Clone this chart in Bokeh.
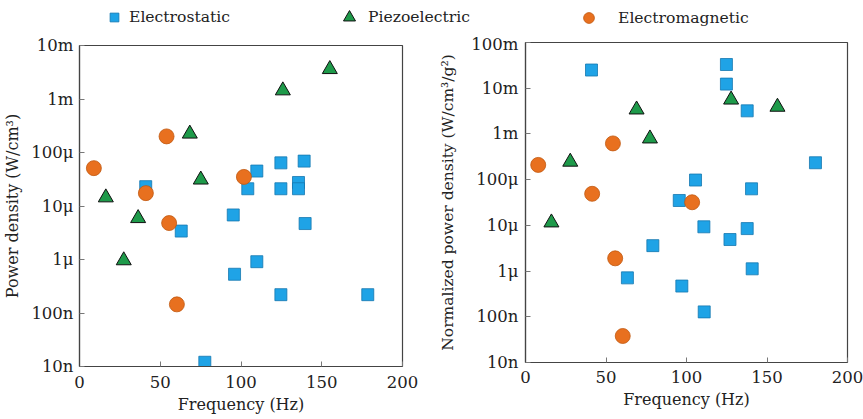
from bokeh.plotting import figure
from bokeh.models import (FixedTicker, CustomJSTickFormatter, Legend, LegendItem, Range1d)
from bokeh.layouts import column, row
from bokeh.embed import file_html
from bokeh.resources import INLINE

FONT = "DejaVu Serif"
TXT = "#222222"

# ---------------- data ----------------
series_names = ["Electrostatic", "Piezoelectric", "Electromagnetic"]

# Left: power density (W/cm^3)
es_f = [41.0, 63.0, 77.6, 95.2, 96.0, 104.2, 109.8, 109.8, 124.7, 124.7, 124.7, 135.6, 135.6, 139.1, 139.7, 178.5]
es_p = [2.3e-5, 3.4e-6, 1.2e-8, 6.8e-6, 5.3e-7, 2.1e-5, 4.5e-5, 9.1e-7, 6.4e-5, 2.1e-5, 2.2e-7, 2.75e-5, 2.1e-5, 6.9e-5, 4.7e-6, 2.2e-7]
pz_f = [16.3, 27.4, 36.3, 68.3, 75.1, 125.9, 155.0]
pz_p = [1.44e-5, 9.6e-7, 5.9e-6, 2.24e-4, 3.1e-5, 1.44e-3, 3.6e-3]
em_f = [8.9, 41.1, 53.9, 55.5, 60.3, 101.8]
em_p = [5.1e-5, 1.74e-5, 2.0e-4, 4.8e-6, 1.45e-7, 3.5e-5]

# Right: normalized power density (W/cm^3/g^2)
es2_f = [41.0, 63.3, 79.1, 95.5, 97.1, 105.6, 110.8, 111.0, 124.8, 124.8, 127.0, 137.7, 137.7, 140.4, 140.8, 180.1]
es2_p = [2.5e-2, 7.1e-7, 3.6e-6, 3.5e-5, 4.7e-7, 9.8e-5, 9.3e-6, 1.28e-7, 3.3e-2, 1.23e-2, 4.9e-6, 3.2e-3, 8.5e-6, 6.3e-5, 1.12e-6, 2.34e-4]
pz2_f = [16.1, 27.8, 69.0, 77.3, 127.7, 156.5]
pz2_p = [1.15e-5, 2.45e-4, 3.4e-3, 7.9e-4, 5.6e-3, 3.9e-3]
em2_f = [7.9, 41.4, 54.3, 55.7, 60.4, 103.5]
em2_p = [2.1e-4, 4.9e-5, 6.2e-4, 1.9e-6, 3.8e-8, 3.2e-5]

x_ticks = [0, 50, 100, 150, 200]
y_exps = [-8, -7, -6, -5, -4, -3, -2, -1]
y_labels = ["10n", "100n", "1\u03bc", "10\u03bc", "100\u03bc", "1m", "10m", "100m"]

# ---------------- styles ----------------
ES_STYLE = dict(marker="square", size=12, fill_color="#1FA3E6", line_color="#1577B0", line_width=0.8)
PZ_STYLE = dict(marker="triangle", size=15, fill_color="#1E9A4A", line_color="#111111", line_width=1.0)
EM_STYLE = dict(marker="circle", size=15, fill_color="#E8701F", line_color="#C0580F", line_width=0.8)

TICK_FS = "16.5px"


def make_panel(width, height, ymin_exp, ymax_exp, ylabel, ylabel_fs, borders, ystand, xstand):
    p = figure(width=width, height=height, y_axis_type="log",
               x_range=Range1d(0, 200),
               y_range=Range1d(10.0 ** ymin_exp, 10.0 ** ymax_exp),
               output_backend="svg", toolbar_location=None,
               min_border_left=borders[0], min_border_right=borders[1],
               min_border_top=borders[2], min_border_bottom=borders[3])
    p.grid.visible = False
    p.outline_line_color = "#444444"
    p.outline_line_width = 1.2

    p.xaxis.ticker = FixedTicker(ticks=x_ticks)
    p.yaxis.ticker = FixedTicker(ticks=[10.0 ** e for e in y_exps if ymin_exp <= e <= ymax_exp])
    p.yaxis.formatter = CustomJSTickFormatter(
        args=dict(exps=y_exps, labels=y_labels),
        code="const e = Math.round(Math.log10(tick)); const i = exps.indexOf(e); return i >= 0 ? labels[i] : '';")

    p.xaxis.axis_label = "Frequency (Hz)"
    p.yaxis.axis_label = ylabel
    for ax in (p.xaxis, p.yaxis):
        ax.axis_line_color = "#444444"
        ax.axis_line_width = 1.2
        ax.major_tick_line_color = "#777777"
        ax.major_tick_in = 5
        ax.major_tick_out = 0
        ax.minor_tick_line_color = None
        ax.major_label_text_font = FONT
        ax.major_label_text_font_size = TICK_FS
        ax.major_label_text_color = TXT
        ax.axis_label_text_font = FONT
        ax.axis_label_text_font_size = "16px"
        ax.axis_label_text_font_style = "normal"
        ax.axis_label_text_color = TXT
    p.yaxis.axis_label_text_font_size = ylabel_fs
    p.yaxis.major_label_standoff = ystand[0]
    p.yaxis.axis_label_standoff = ystand[1]
    p.xaxis.major_label_standoff = xstand[0]
    p.xaxis.axis_label_standoff = xstand[1]
    return p


p1 = make_panel(430, 385, -8, -2, "Power density (W/cm\u00b3)", "16px", (79, 28, 11, 53), (6, 6), (9, 4))
p1.scatter(x=es_f, y=es_p, **ES_STYLE)
p1.scatter(x=pz_f, y=pz_p, **PZ_STYLE)
p1.scatter(x=em_f, y=em_p, **EM_STYLE)

p2 = make_panel(433, 385, -8, -1, "Normalized power density (W/cm\u00b3/g\u00b2)", "15.5px", (95, 16, 8, 57), (7, 11), (8, 4))
p2.scatter(x=es2_f, y=es2_p, **ES_STYLE)
p2.scatter(x=pz2_f, y=pz2_p, **PZ_STYLE)
p2.scatter(x=em2_f, y=em2_p, **EM_STYLE)

# ---------------- legend strip ----------------
# x range placed away from the data so the legend renderers draw nothing in the strip
p0 = figure(width=863, height=34, x_range=Range1d(-20, -10), y_range=Range1d(0, 1),
            output_backend="svg", toolbar_location=None, min_border=0)
p0.axis.visible = False
p0.grid.visible = False
p0.outline_line_color = None
r_es = p0.scatter(x=es_f, y=es_p, **ES_STYLE)
r_pz = p0.scatter(x=pz_f, y=pz_p, **PZ_STYLE)
r_em = p0.scatter(x=em_f, y=em_p, **EM_STYLE)

legend_specs = [
    (series_names[0], r_es, (103, 6), 22, 4),
    (series_names[1], r_pz, (334, 2), 30, 4),
    (series_names[2], r_em, (575, 3), 27, 16),
]
for name, rend, loc, gsize, stand in legend_specs:
    lg = Legend(items=[LegendItem(label=name, renderers=[rend])],
                orientation="horizontal", location=loc, margin=0, padding=0,
                glyph_width=gsize, glyph_height=gsize, label_standoff=stand, label_height=gsize,
                label_text_font=FONT, label_text_font_size="15.6px", label_text_color=TXT,
                border_line_color=None, background_fill_alpha=0)
    p0.add_layout(lg, "center")

layout = column(p0, row(column(p1), column(p2), spacing=0), spacing=0)

open("out.html", "w").write(file_html(layout, INLINE))
